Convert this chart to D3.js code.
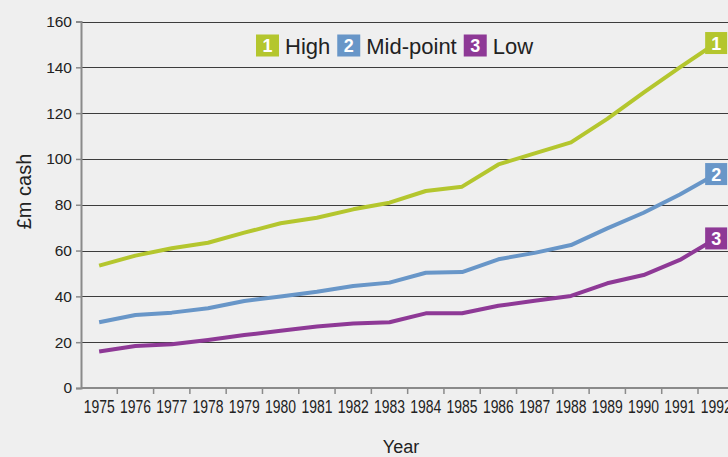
<!DOCTYPE html>
<html>
<head>
<meta charset="utf-8">
<script src="https://cdn.jsdelivr.net/npm/d3@7"></script>
<style>
  html, body { margin: 0; padding: 0; background: #efefef; }
  svg { display: block; }
</style>
</head>
<body>
<svg id="chart" width="728" height="457"></svg>
<script>
const years = [1975,1976,1977,1978,1979,1980,1981,1982,1983,1984,1985,1986,1987,1988,1989,1990,1991,1992];
const high = [53.4,57.8,61,63.4,67.8,71.9,74.3,78,80.9,86,87.9,97.6,102.4,107.2,117.5,129,140,150.6];
const mid  = [28.7,31.9,32.9,34.8,38,39.9,42,44.5,46,50.3,50.6,56.2,59,62.4,69.7,76.5,84.5,93.4];
const low  = [15.9,18.3,19.1,21,23.1,25,26.8,28.2,28.7,32.6,32.6,35.9,38.1,40.2,45.7,49.3,55.9,65.3];
const seriesNames = ["High","Mid-point","Low"];
const seriesColors = ["#b4c62e","#6896c8","#8e3996"];
const yTicks = [0,20,40,60,80,100,120,140,160];

(function () {
const svg = d3.select("#chart");
const pLeft = 81, pRight = 734.3, pTop = 21.5, pBottom = 388;
const FONT = "'Liberation Sans', Arial, Helvetica, sans-serif";

const x = d3.scaleBand().domain(years).range([pLeft, pRight]).paddingInner(0).paddingOuter(0);
const y = d3.scaleLinear().domain([0,160]).range([pBottom, pTop]);
const cx = d => x(d) + x.bandwidth()/2;

// gridlines
svg.append("g").selectAll("line").data(yTicks.filter(t => t > 0)).join("line")
  .attr("x1", pLeft).attr("x2", 740)
  .attr("y1", d => Math.round(y(d)) + 0.5).attr("y2", d => Math.round(y(d)) + 0.5)
  .attr("stroke", "#3c3c3c").attr("stroke-width", 1.2);

// y axis
const yAxis = d3.axisLeft(y).tickValues(yTicks).tickSize(5).tickPadding(4).tickFormat(d3.format("d"));
const gy = svg.append("g").attr("transform", `translate(${pLeft},0)`).call(yAxis);
gy.select(".domain").attr("stroke", "#8a8a8a").attr("stroke-width", 2);
gy.selectAll(".tick line").attr("stroke", "#8a8a8a").attr("stroke-width", 1.5);
gy.selectAll(".tick text").attr("fill", "#222").style("font-family", FONT).style("font-size", "15.5px");

// x axis
const xb = svg.append("g").attr("transform", `translate(0,${pBottom})`);
xb.append("line").attr("x1", pLeft).attr("x2", 740).attr("y1", 0).attr("y2", 0)
  .attr("stroke", "#8a8a8a").attr("stroke-width", 2);
xb.selectAll("line.tk").data(years).join("line").attr("class","tk")
  .attr("x1", d => x(d) + x.bandwidth()).attr("x2", d => x(d) + x.bandwidth())
  .attr("y1", 0).attr("y2", 6).attr("stroke", "#8a8a8a").attr("stroke-width", 1.5);
xb.selectAll("text").data(years).join("text")
  .attr("x", d => cx(d) - 15.5).attr("y", 25)
  .attr("textLength", 31).attr("lengthAdjust", "spacingAndGlyphs")
  .attr("fill", "#222")
  .style("font-family", FONT)
  .style("font-size", "17.5px").text(d => d);

// axis titles
svg.append("text").attr("x", 401).attr("y", 453).attr("text-anchor", "middle")
  .attr("fill", "#222").style("font-family", FONT).style("font-size", "18px").text("Year");
svg.append("text").attr("transform", "translate(31,191.5) rotate(-90)").attr("text-anchor", "middle")
  .attr("fill", "#222").style("font-family", FONT).style("font-size", "20px").text("£m cash");

// lines
const allSeries = [high, mid, low];
const line = d3.line().x((d,i) => cx(years[i])).y(d => y(d));
allSeries.forEach((s, k) => {
  svg.append("path").datum(s).attr("d", line).attr("fill", "none")
    .attr("stroke", seriesColors[k]).attr("stroke-width", 4).attr("stroke-linejoin", "round");
});

// end labels
allSeries.forEach((s, k) => {
  const px = cx(years[years.length-1]), py = y(s[s.length-1]);
  svg.append("rect").attr("x", px - 11).attr("y", py - 11).attr("width", 22).attr("height", 22).attr("fill", seriesColors[k]);
  svg.append("text").attr("x", px).attr("y", py + 6.5).attr("text-anchor", "middle")
    .attr("fill", "#fff").style("font-family", FONT).style("font-weight", "bold").style("font-size", "18px")
    .text(k + 1);
});

// legend
let lx = 256;
const ly = 34.5;
seriesNames.forEach((name, k) => {
  svg.append("rect").attr("x", lx).attr("y", ly).attr("width", 23).attr("height", 22).attr("fill", seriesColors[k]);
  svg.append("text").attr("x", lx + 11.5).attr("y", ly + 17).attr("text-anchor", "middle")
    .attr("fill", "#fff").style("font-family", FONT).style("font-weight", "bold").style("font-size", "18px")
    .text(k + 1);
  const t = svg.append("text").attr("x", lx + 29).attr("y", ly + 19)
    .attr("fill", "#222").style("font-family", FONT).style("font-size", "22px").text(name);
  lx = lx + 29 + t.node().getComputedTextLength() + 7;
});
})();
</script>
</body>
</html>
